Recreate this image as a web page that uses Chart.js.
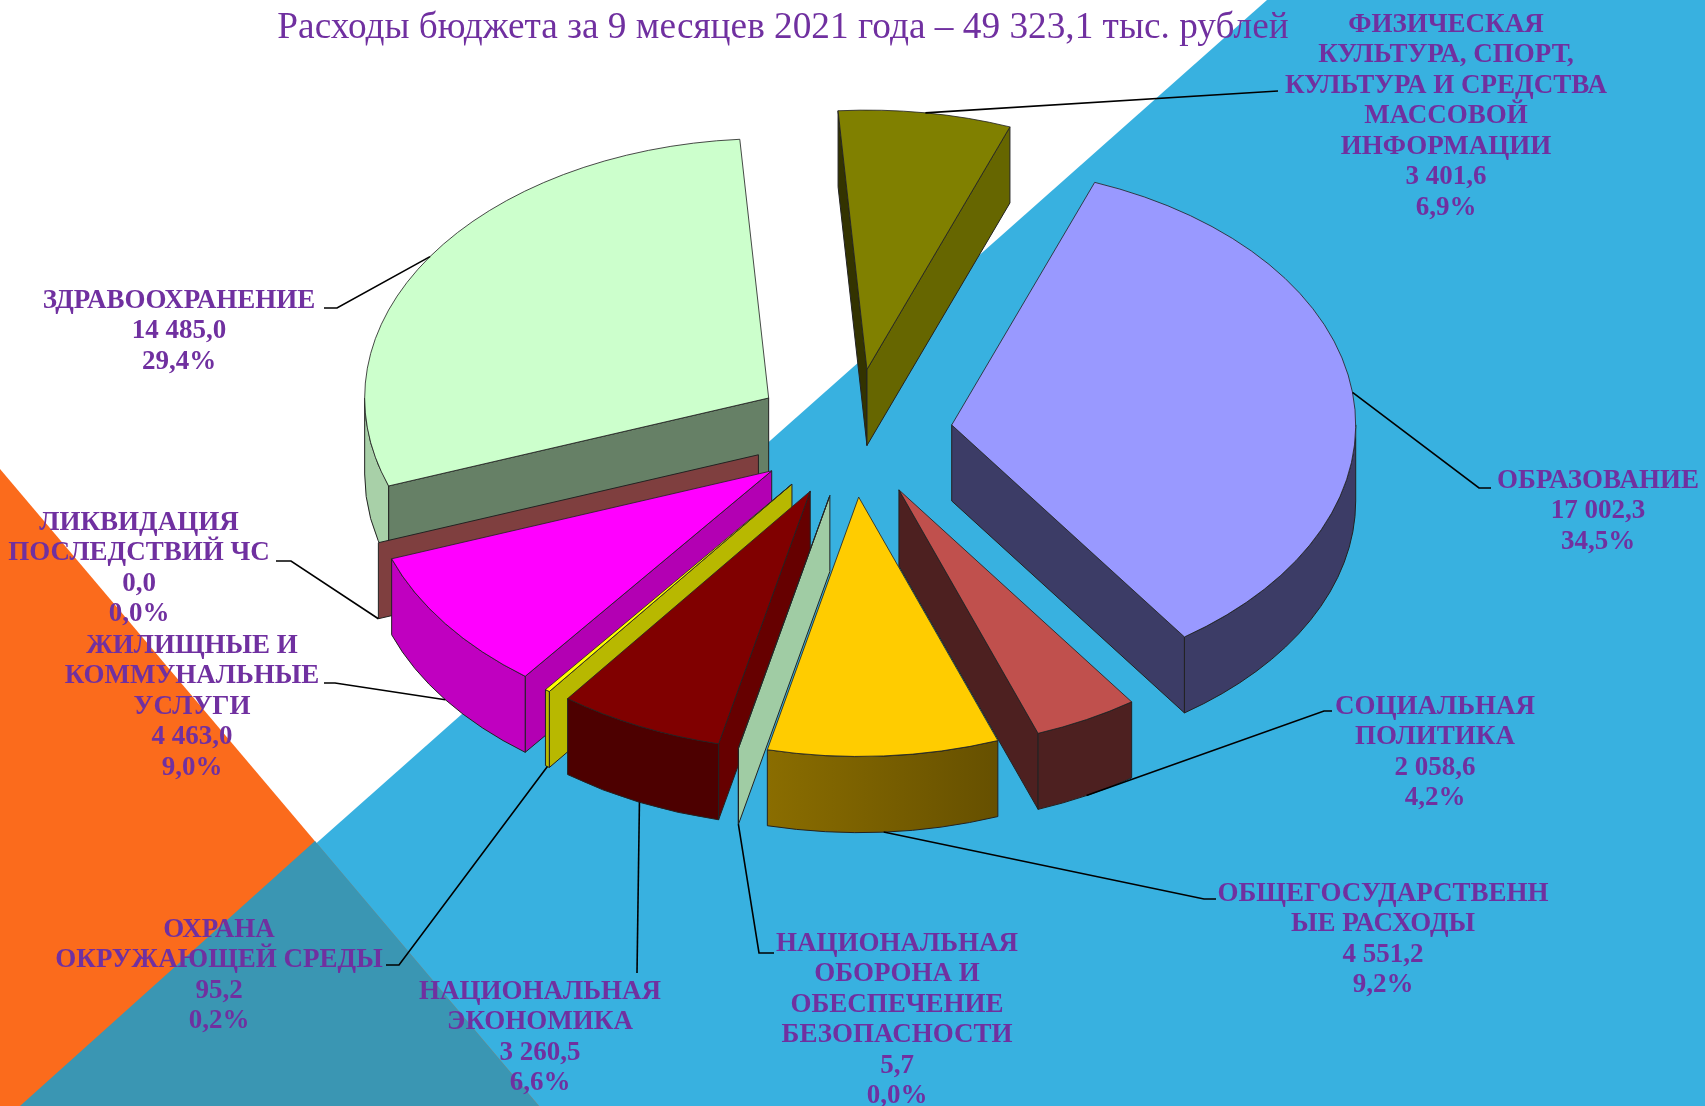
<!DOCTYPE html>
<html>
<head>
<meta charset="utf-8">
<script src="https://cdn.jsdelivr.net/npm/chart.js@4"></script>
<style>
  html, body { margin: 0; padding: 0; background: #fff; overflow: hidden; }
  #wrap { width: 1705px; height: 1106px; }
</style>
</head>
<body>
<div id="wrap"><canvas id="chart"></canvas></div>
<script>
const titleText = 'Расходы бюджета за 9 месяцев 2021 года – 49 323,1 тыс. рублей';

const categories = [
  'Физическая культура, спорт, культура и средства массовой информации',
  'Образование',
  'Социальная политика',
  'Общегосударственные расходы',
  'Национальная оборона и обеспечение безопасности',
  'Национальная экономика',
  'Охрана окружающей среды',
  'Жилищные и коммунальные услуги',
  'Ликвидация последствий ЧС',
  'Здравоохранение'
];
const values = [3401.6, 17002.3, 2058.6, 4551.2, 5.7, 3260.5, 95.2, 4463.0, 0.0, 14485.0];

const labelLines = [
  ['ФИЗИЧЕСКАЯ', 'КУЛЬТУРА, СПОРТ,', 'КУЛЬТУРА И СРЕДСТВА', 'МАССОВОЙ', 'ИНФОРМАЦИИ', '3 401,6', '6,9%'],
  ['ОБРАЗОВАНИЕ', '17 002,3', '34,5%'],
  ['СОЦИАЛЬНАЯ', 'ПОЛИТИКА', '2 058,6', '4,2%'],
  ['ОБЩЕГОСУДАРСТВЕНН', 'ЫЕ РАСХОДЫ', '4 551,2', '9,2%'],
  ['НАЦИОНАЛЬНАЯ', 'ОБОРОНА И', 'ОБЕСПЕЧЕНИЕ', 'БЕЗОПАСНОСТИ', '5,7', '0,0%'],
  ['НАЦИОНАЛЬНАЯ', 'ЭКОНОМИКА', '3 260,5', '6,6%'],
  ['ОХРАНА', 'ОКРУЖАЮЩЕЙ СРЕДЫ', '95,2', '0,2%'],
  ['ЖИЛИЩНЫЕ И', 'КОММУНАЛЬНЫЕ', 'УСЛУГИ', '4 463,0', '9,0%'],
  ['ЛИКВИДАЦИЯ', 'ПОСЛЕДСТВИЙ ЧС', '0,0', '0,0%'],
  ['ЗДРАВООХРАНЕНИЕ', '14 485,0', '29,4%']
];

const sliceColors = ['#808000', '#9999ff', '#c0504d', '#ffcc00', '#ccffcc', '#800000', '#ffff00', '#ff00ff', '#7f3f3f', '#ccffcc'];
const startWallColors = ['#333300', '#3c3c66', '#4d2020', '#665000', '#a0cca4', '#660000', '#b8b800', '#b300b3', '#7f3f3f', '#668066'];
const endWallColors = ['#666600', '#3c3c66', '#4d2020', '#665000', '#a0cca4', '#660000', '#b8b800', '#b300b3', '#7f3f3f', '#668066'];
const rimColors = ['#666600', '#3c3c66', '#4d2020', ['#8a6d00', '#665000'], '#a0cca4', '#4d0000', '#b8b800', '#c000c0', '#7f3f3f', '#a8d0a8'];

// label centre x / first line y, then the leader bend points
const labelAnchors = [[1446, 25], [1598, 481], [1435, 707], [1383, 894], [897, 944], [540, 992], [219, 930], [192, 646], [139, 523], [179, 301]];
const leaderBends = [
  [[1278, 91]],
  [[1479, 488], [1491, 488]],
  [[1324, 711], [1332, 711]],
  [[1204, 899], [1216, 899]],
  [[759, 953], [774, 953]],
  [[637, 973]],
  [[399, 965], [386, 965]],
  [[335, 683], [324, 683]],
  [[291, 561], [276, 561]],
  [[337, 308], [324, 308]]
];

const TILT = 0.642;
const EXPLODE = 100;
const DEPTH = 76;
const PURPLE = '#7030a0';

function rimPoint(arc, a) {
  const mid = (arc.startAngle + arc.endAngle) / 2;
  const ox = arc.x + Math.cos(mid) * EXPLODE;
  const oy = arc.y + Math.sin(mid) * EXPLODE * TILT;
  return { ox, oy, x: ox + Math.cos(a) * arc.outerRadius, y: oy + Math.sin(a) * arc.outerRadius * TILT };
}

function radialWall(ctx, arc, a, color) {
  const p = rimPoint(arc, a);
  ctx.beginPath();
  ctx.moveTo(p.ox, p.oy);
  ctx.lineTo(p.x, p.y);
  ctx.lineTo(p.x, p.y + DEPTH);
  ctx.lineTo(p.ox, p.oy + DEPTH);
  ctx.closePath();
  ctx.fillStyle = color;
  ctx.fill();
  ctx.stroke();
}

function drawSlice(ctx, arc, i) {
  const s = arc.startAngle, e = arc.endAngle;
  const p = rimPoint(arc, s);
  const r = arc.outerRadius;
  ctx.lineWidth = 1;
  ctx.strokeStyle = '#222';

  if (Math.sin(s - Math.PI / 2) > 0) radialWall(ctx, arc, s, startWallColors[i]);
  if (Math.sin(e + Math.PI / 2) > 0) radialWall(ctx, arc, e, endWallColors[i]);

  const a0 = Math.max(s, 0), a1 = Math.min(e, Math.PI);
  if (a1 > a0) {
    let fill = rimColors[i];
    if (Array.isArray(fill)) {
      const g = ctx.createLinearGradient(rimPoint(arc, a1).x, 0, rimPoint(arc, a0).x, 0);
      g.addColorStop(0, fill[0]);
      g.addColorStop(1, fill[1]);
      fill = g;
    }
    ctx.beginPath();
    ctx.ellipse(p.ox, p.oy, r, r * TILT, 0, a0, a1);
    ctx.ellipse(p.ox, p.oy + DEPTH, r, r * TILT, 0, a1, a0, true);
    ctx.closePath();
    ctx.fillStyle = fill;
    ctx.fill();
    ctx.stroke();
  }

  ctx.save();
  ctx.translate(p.ox, p.oy);
  ctx.scale(1, TILT);
  ctx.translate(-arc.x, -arc.y);
  arc.draw(ctx);
  ctx.restore();
}

const pie3d = {
  id: 'pie3d',
  beforeDraw(chart) {
    const ctx = chart.ctx;
    const poly = (pts, color) => {
      ctx.beginPath();
      pts.forEach((pt, k) => k ? ctx.lineTo(pt[0], pt[1]) : ctx.moveTo(pt[0], pt[1]));
      ctx.closePath();
      ctx.fillStyle = color;
      ctx.fill();
    };
    ctx.save();
    poly([[0, 0], [1705, 0], [1705, 1106], [0, 1106]], '#ffffff');
    poly([[1267, 0], [1705, 0], [1705, 1106], [20, 1106]], '#38b1e0');
    poly([[0, 469], [539, 1106], [0, 1106]], '#fb6b1c');
    poly([[315, 841], [539, 1106], [20, 1106]], '#3a96b3');
    ctx.restore();
  },
  beforeDatasetDraw(chart) {
    const ctx = chart.ctx;
    const arcs = chart.getDatasetMeta(0).data;
    const order = arcs.map((a, i) => i).sort((m, n) =>
      Math.sin((arcs[m].startAngle + arcs[m].endAngle) / 2) - Math.sin((arcs[n].startAngle + arcs[n].endAngle) / 2));
    ctx.save();
    order.forEach(i => drawSlice(ctx, arcs[i], i));
    ctx.restore();
    return false;
  },
  afterDraw(chart) {
    const ctx = chart.ctx;
    const arcs = chart.getDatasetMeta(0).data;
    ctx.save();

    ctx.strokeStyle = '#000';
    ctx.lineWidth = 1.6;
    arcs.forEach((arc, i) => {
      const mid = (arc.startAngle + arc.endAngle) / 2;
      const p = rimPoint(arc, mid);
      ctx.beginPath();
      ctx.moveTo(p.x, p.y + (Math.sin(mid) > 0 ? DEPTH : 0));
      leaderBends[i].forEach(b => ctx.lineTo(b[0], b[1]));
      ctx.stroke();
    });

    ctx.fillStyle = PURPLE;
    ctx.textAlign = 'center';
    ctx.textBaseline = 'middle';
    ctx.font = 'bold 27px "Liberation Serif"';
    labelLines.forEach((lines, i) => {
      lines.forEach((line, k) => ctx.fillText(line, labelAnchors[i][0], labelAnchors[i][1] + k * 30.5));
    });

    ctx.font = '37.3px "Liberation Serif"';
    ctx.fillText(titleText, 783, 28);
    ctx.restore();
  }
};

new Chart(document.getElementById('chart'), {
  type: 'pie',
  data: {
    labels: categories,
    datasets: [{
      data: values,
      backgroundColor: sliceColors,
      borderColor: '#222',
      borderWidth: 1,
      radius: 404,
      rotation: -4.1
    }]
  },
  options: {
    responsive: true,
    maintainAspectRatio: false,
    animation: false,
    layout: { padding: { bottom: 240 } },
    plugins: { legend: { display: false }, tooltip: { enabled: false } }
  },
  plugins: [pie3d]
});
</script>
</body>
</html>
